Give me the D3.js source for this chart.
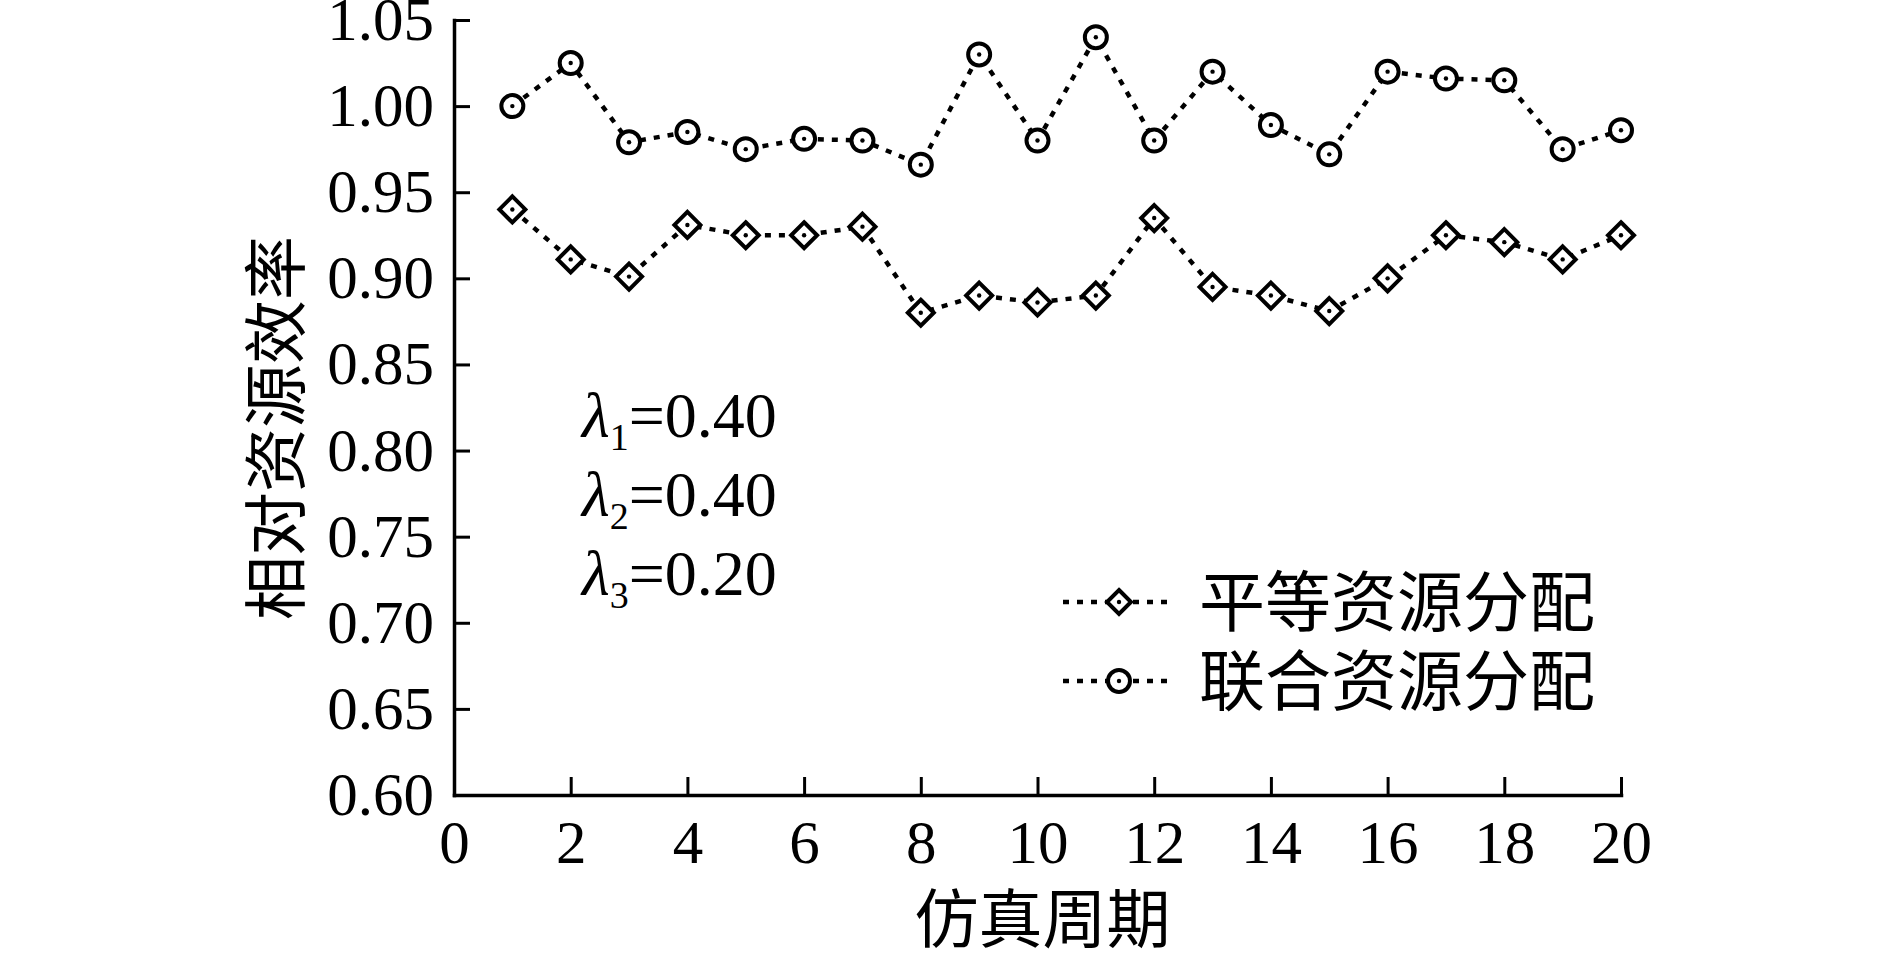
<!DOCTYPE html>
<html>
<head>
<meta charset="utf-8">
<script src="https://cdn.jsdelivr.net/npm/d3@7"></script>
<style>
  body { margin: 0; background: #fff; }
  svg text { font-family: "Liberation Serif", "Noto Sans CJK SC", serif; fill: #000; }
</style>
</head>
<body>
<div id="chart"></div>
<script>
// 仿真周期
var periods = d3.range(1, 21);
// 平等资源分配
var equalAlloc = [0.940, 0.911, 0.901, 0.931, 0.925, 0.925, 0.930, 0.880, 0.890, 0.886,
                  0.890, 0.935, 0.895, 0.890, 0.881, 0.900, 0.925, 0.921, 0.911, 0.925];
// 联合资源分配
var jointAlloc = [1.000, 1.025, 0.979, 0.985, 0.975, 0.981, 0.980, 0.966, 1.030, 0.980,
                  1.040, 0.980, 1.020, 0.989, 0.972, 1.020, 1.016, 1.015, 0.975, 0.986];
var seriesNames = ['平等资源分配', '联合资源分配'];
var xTicks = d3.range(0, 21, 2);
var yTicks = d3.range(0.60, 1.0501, 0.05);
var lambdas = [['1', '0.40'], ['2', '0.40'], ['3', '0.20']];

var width = 1889, height = 953;
var margin = { top: 20, right: 268, bottom: 158, left: 454 };

var svg = d3.select('#chart').append('svg')
    .attr('width', width)
    .attr('height', height);

var x = d3.scaleLinear().domain([0, 20]).range([margin.left, width - margin.right]);
var y = d3.scaleLinear().domain([0.60, 1.05]).range([height - margin.bottom, margin.top]);

// 坐标轴
var xAxis = svg.append('g')
    .attr('transform', `translate(0,${y(0.60)})`)
    .call(d3.axisBottom(x).tickValues(xTicks).tickSizeInner(-18).tickSizeOuter(0).tickPadding(25));
var yAxis = svg.append('g')
    .attr('transform', `translate(${x(0)},0)`)
    .call(d3.axisLeft(y).tickValues(yTicks).tickFormat(d3.format('.2f')).tickSizeInner(-16).tickSizeOuter(0).tickPadding(20));

[xAxis, yAxis].forEach(function (g) {
    g.select('.domain').attr('stroke', '#000').attr('stroke-width', 3.5).attr('stroke-linecap', 'square');
    g.selectAll('.tick line').attr('stroke', '#000').attr('stroke-width', 3);
    g.selectAll('.tick text').attr('font-size', 61).attr('font-family', '"Liberation Serif", serif').attr('fill', '#000');
});

// 轴标题
svg.append('text')
    .attr('x', (x(0) + x(20)) / 2 + 5)
    .attr('y', 942)
    .attr('text-anchor', 'middle')
    .attr('font-size', 64)
    .text('仿真周期');
svg.append('text')
    .attr('transform', 'translate(277,428) rotate(-90)')
    .attr('text-anchor', 'middle')
    .attr('dy', '0.35em')
    .attr('font-size', 64)
    .text('相对资源效率');

// 符号
function diamond (sel, s) {
    sel.append('path')
        .attr('d', `M0,${-s}L${s},0L0,${s}L${-s},0Z`)
        .attr('fill', '#fff').attr('stroke', '#000').attr('stroke-width', 4);
    sel.append('circle').attr('r', 2.2).attr('fill', '#000');
}
function ring (sel, r) {
    sel.append('circle').attr('r', r)
        .attr('fill', '#fff').attr('stroke', '#000').attr('stroke-width', 4);
    sel.append('circle').attr('r', 2.2).attr('fill', '#000');
}

var line = d3.line()
    .x(function (d, i) { return x(periods[i]); })
    .y(function (d) { return y(d); });

var series = [
    { name: seriesNames[0], values: equalAlloc, marker: diamond },
    { name: seriesNames[1], values: jointAlloc, marker: ring }
];

series.forEach(function (s) {
    svg.append('path')
        .datum(s.values)
        .attr('d', line)
        .attr('fill', 'none')
        .attr('stroke', '#000')
        .attr('stroke-width', 4.5)
        .attr('stroke-dasharray', '6,8');
    svg.selectAll(null)
        .data(s.values)
        .enter()
        .append('g')
        .attr('transform', function (d, i) { return `translate(${x(periods[i])},${y(d)})`; })
        .each(function () {
            s.marker(d3.select(this), s.marker === diamond ? 13 : 11);
        });
});

// λ 参数
var lam = svg.append('g');
lambdas.forEach(function (l, i) {
    var t = lam.append('text')
        .attr('x', 582)
        .attr('y', 437 + i * 79)
        .attr('font-size', 64);
    t.append('tspan').attr('font-style', 'italic').text('λ');
    t.append('tspan').attr('font-size', 38).attr('dy', 13).text(l[0]);
    t.append('tspan').attr('dy', -13).text('=' + l[1]);
});

// 图例
var legend = svg.append('g');
series.forEach(function (s, i) {
    var ly = 602 + i * 79;
    var g = legend.append('g');
    g.append('line')
        .attr('x1', 1063).attr('x2', 1175)
        .attr('y1', ly).attr('y2', ly)
        .attr('stroke', '#000').attr('stroke-width', 4.5)
        .attr('stroke-dasharray', '6,8');
    var m = g.append('g').attr('transform', `translate(1119,${ly})`);
    s.marker(m, s.marker === diamond ? 12 : 11);
    g.append('text')
        .attr('x', 1199)
        .attr('y', ly)
        .attr('dy', '0.36em')
        .attr('font-size', 66)
        .text(s.name);
});
</script>
</body>
</html>
